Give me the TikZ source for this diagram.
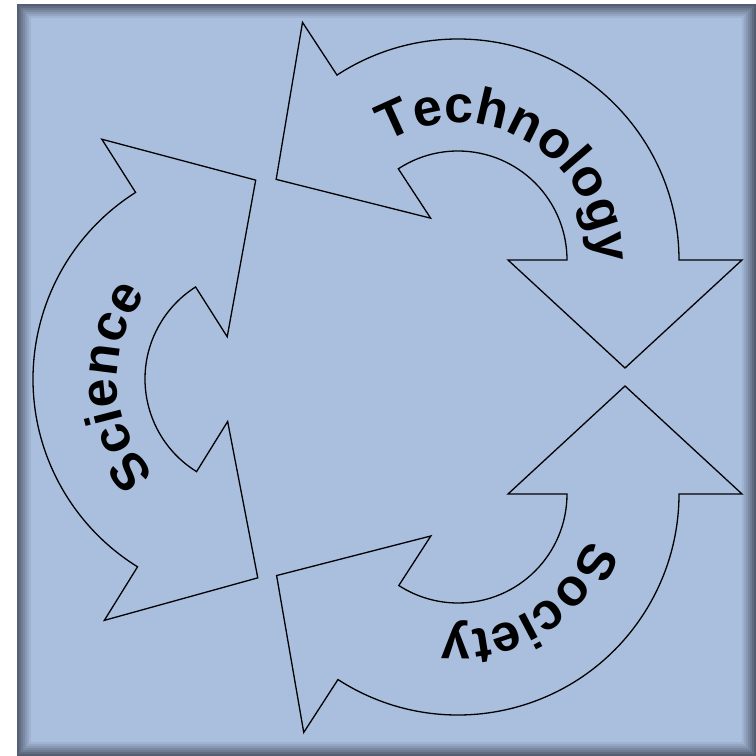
\documentclass[tikz,border=0pt]{standalone}
\usepackage{fontspec}
\setmainfont{Liberation Sans}
\usetikzlibrary{decorations.text}
\definecolor{bgfill}{RGB}{170,190,222}
\definecolor{bgdark}{RGB}{85,95,115}
\begin{document}
\begin{tikzpicture}[x=1pt,y=1pt,
  arrowshape/.style={draw=black, line width=1.3pt, line join=miter, fill=bgfill},
  curvedtext/.style={decorate, decoration={text along path, text align=center, text color=black}}]
\useasboundingbox (0,0) rectangle (756,756);
\fill[white] (0,0) rectangle (756,756);
\foreach \i/\p in {0/100,2/85,4/70,6/55,8/40,10/26,12/12,14/0} {
  \fill[bgdark!\p!bgfill] (17+\i,0+\i) rectangle (756-\i,752-\i);
}
\coordinate (tech) at (458,496);
\coordinate (soc) at (458,262);
\coordinate (sci) at (254,377);
% Technology arrow
\begin{scope}[shift={(tech)}]
\draw[arrowshape] (0:221) arc[start angle=0,end angle=123.2,radius=221]
  -- (123.2:284) -- (156.09:198.9) -- (123.2:50) -- (123.2:109)
  arc[start angle=123.2,end angle=0,radius=109]
  -- (0:50) -- (-32.89:198.9) -- (0:284) -- cycle;
\end{scope}
% Society arrow
\begin{scope}[shift={(soc)}]
\draw[arrowshape] (-122.9:221) arc[start angle=-122.9,end angle=0,radius=221]
  -- (0:284) -- (32.89:198.9) -- (0:50) -- (0:109)
  arc[start angle=0,end angle=-122.9,radius=109]
  -- (-122.9:50) -- (-155.79:198.9) -- (-122.9:284) -- cycle;
\end{scope}
% Science arrow
\begin{scope}[shift={(sci)}]
\draw[arrowshape] (122.4:221) arc[start angle=122.4,end angle=238.2,radius=221]
  -- (238.2:284) -- (271.09:198.9) -- (238.2:50) -- (238.2:109)
  arc[start angle=238.2,end angle=122.4,radius=109]
  -- (122.4:50) -- (89.51:198.9) -- (122.4:284) -- cycle;
\end{scope}
% Labels
\path[curvedtext, decoration={text={|\bfseries\fontsize{52}{52}\selectfont|Technology}}]
  (tech) ++(140:137) arc[start angle=140,end angle=-20,radius=137];
\path[curvedtext, decoration={text={|\bfseries\fontsize{52}{52}\selectfont|Science}}]
  (sci) ++(263:137) arc[start angle=263,end angle=103,radius=137];
\path[curvedtext, decoration={text={|\bfseries\fontsize{52}{52}\selectfont|Society}}]
  (soc) ++(22:137) arc[start angle=22,end angle=-138,radius=137];
\end{tikzpicture}
\end{document}
